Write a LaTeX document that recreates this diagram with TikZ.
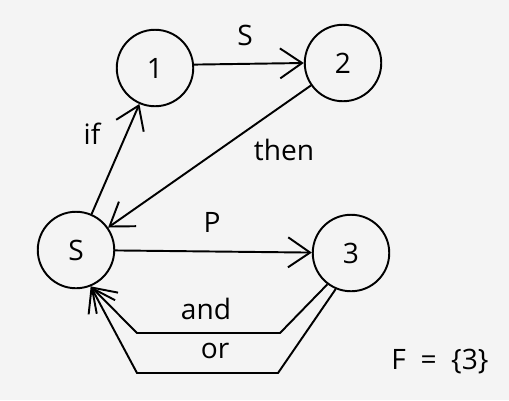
\documentclass[tikz,border=0pt]{standalone}
\usepackage{fontspec}
\setmainfont{Open Sans}
\usetikzlibrary{arrows.meta}

\begin{document}
\begin{tikzpicture}[x=0.02cm, y=-0.02cm, font=\fontsize{16}{18}\selectfont,
    >={Straight Barb[length=4.4mm, width=6mm, line width=1.1pt]},
    state/.style={draw, circle, line width=1.1pt, minimum size=1.53cm, inner sep=0pt},
    trans/.style={->, line width=1.1pt}]
    % ---------------- paper and frame (1 unit = 1 px of the reference)
    \fill[gray!9] (0,0) rectangle (509,400);
    \useasboundingbox (0,0) rectangle (509,400);
    % states
    \node[state] (q1) at (155,68) {1};
    \node[state] (q2) at (343,63) {2};
    \node[state] (qS) at (76,250) {S};
    \node[state] (q3) at (351,253) {3};
    % bends of the two return paths
    \coordinate (andR) at (280,333); \coordinate (andL) at (137,333);
    \coordinate (orR) at (278,373);  \coordinate (orL) at (137,373);
    % transitions
    \draw[trans] (qS) -- (q1);
    \draw[trans] (q1.5) -- (q2.west);
    \draw[trans] (q2) -- (qS);
    \draw[trans] (qS) -- (q3);
    \draw[trans] (q3.233) -- (andR) -- (andL) -- (qS.292);
    \draw[trans] (q3.247) -- (orR) -- (orL) -- (qS.292);
    % labels
    \node (lblS) at (245,35) {S};
    \node (lblIf) at (92,134) {if};
    \node (lblThen) at (284,150) {then};
    \node (lblP) at (212,222) {P};
    \node (lblAnd) at (206,309) {and};
    \node (lblOr) at (215,351) {or};
    \node (lblF) at (440,362) {F\ \ =\ \ \{3\}};
\end{tikzpicture}
\end{document}
